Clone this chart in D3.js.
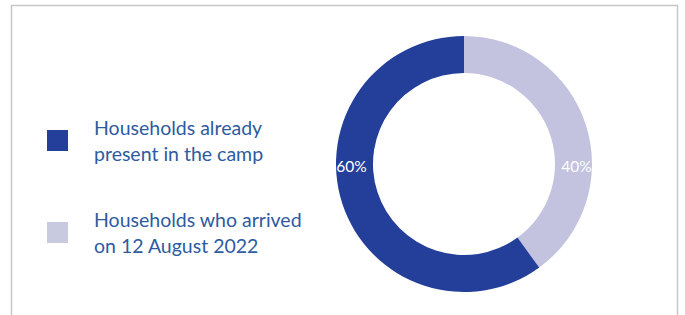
<!DOCTYPE html>
<html>
<head>
<meta charset="utf-8">
<script src="https://cdn.jsdelivr.net/npm/d3@7"></script>
<style>
  body { margin: 0; background: #fff; }
  svg { display: block; }
</style>
</head>
<body>
<svg id="chart" width="685" height="315"></svg>
<script>
// Chart data
const categories = ['Households who arrived on 12 August 2022', 'Households already present in the camp'];
const values = [40, 60];
const valueLabels = ['40%', '60%'];
const colors = ['#c3c3e0', '#233f99'];

// Legend order (top to bottom) and wrapped lines
const legendOrder = [1, 0];
const legendLines = [
    ['Households who arrived', 'on 12 August 2022'],
    ['Households already', 'present in the camp']
];

const svg = d3.select('#chart');

// Frame (no bottom edge)
svg.append('path')
    .attr('d', 'M11.5,315 V5.5 H677.5 V315')
    .attr('fill', 'none')
    .attr('stroke', '#c6c6c6')
    .attr('stroke-width', 1.5);

// Donut
const cx = 464, cy = 164;
const outerR = 128, innerR = 91;

const pie = d3.pie().sort(null).value(d => d);
const arc = d3.arc().innerRadius(innerR).outerRadius(outerR);

const g = svg.append('g').attr('transform', `translate(${cx},${cy})`);

const arcs = pie(values);

g.selectAll('.slice')
    .data(arcs)
    .enter()
    .append('path')
    .attr('class', 'slice')
    .attr('d', arc)
    .attr('fill', (d, i) => colors[i]);

// Labels sit at the horizontal middle of each side of the ring
const midR = (innerR + outerR) / 2;
g.selectAll('.val')
    .data(arcs)
    .enter()
    .append('text')
    .attr('class', 'val')
    .attr('x', (d, i) => (i === 0 ? 1 : -1) * (midR + 3))
    .attr('y', 8)
    .attr('text-anchor', 'middle')
    .attr('fill', '#fff')
    .style('font-family', 'Lato, sans-serif')
    .style('font-size', '15.5px')
    .text((d, i) => valueLabels[i]);

// Legend
const legend = svg.append('g');
const legendY = [130, 222];

legendOrder.forEach((idx, row) => {
    const y = legendY[row];
    legend.append('rect')
        .attr('x', 47)
        .attr('y', y)
        .attr('width', 21)
        .attr('height', 21)
        .attr('fill', idx === 0 ? '#c8cae0' : colors[idx]);

    const t = legend.append('text')
        .attr('x', 94)
        .attr('y', y + 5)
        .attr('fill', '#2e5b9f')
        .style('font-family', 'Lato, sans-serif')
        .style('font-size', '19.5px');

    legendLines[idx].forEach((line, k) => {
        t.append('tspan')
            .attr('x', 94)
            .attr('dy', k === 0 ? 0 : 26)
            .text(line);
    });
});
</script>
</body>
</html>
